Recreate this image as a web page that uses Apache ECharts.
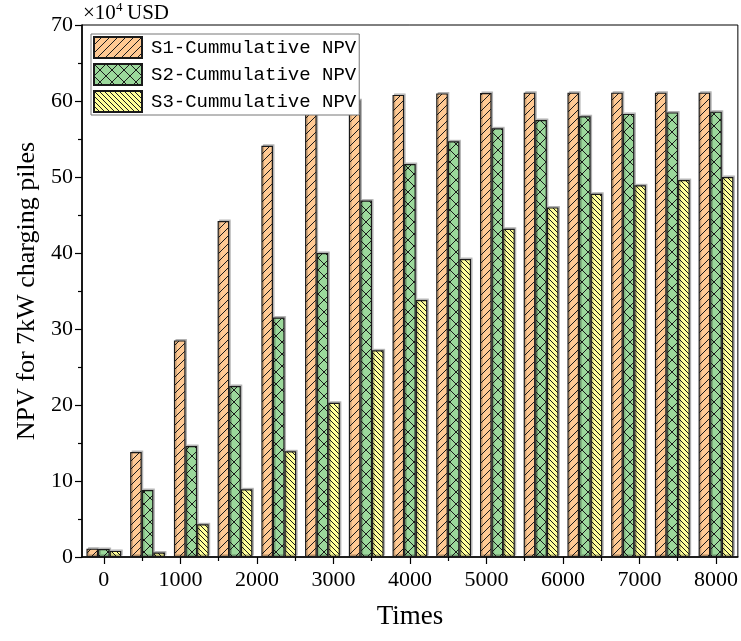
<!DOCTYPE html>
<html>
<head>
<meta charset="utf-8">
<script src="https://cdn.jsdelivr.net/npm/echarts@6/dist/echarts.min.js"></script>
<style>html,body{margin:0;padding:0;background:#fff;}#c{width:741px;height:641px;}</style>
</head>
<body>
<div id="c"></div>
<script>
// ---- data ----
const times = [0, 571, 1143, 1714, 2286, 2857, 3429, 4000, 4571, 5143, 5714, 6286, 6857, 7429, 8000];
const s1 = [1.1, 13.8, 28.5, 44.2, 54.1, 58.6, 60.1, 60.8, 61.0, 61.05, 61.1, 61.1, 61.1, 61.1, 61.1];
const s2 = [1.05, 8.8, 14.6, 22.5, 31.5, 40.0, 46.9, 51.7, 54.7, 56.4, 57.5, 58.0, 58.3, 58.5, 58.6];
const s3 = [0.8, 0.6, 4.3, 8.9, 13.9, 20.3, 27.2, 33.8, 39.2, 43.2, 46.0, 47.8, 48.9, 49.6, 50.0];
const seriesNames = ['S1-Cummulative NPV', 'S2-Cummulative NPV', 'S3-Cummulative NPV'];
const xMajorTicks = [0, 1000, 2000, 3000, 4000, 5000, 6000, 7000, 8000];
const xMinorTicks = [500, 1500, 2500, 3500, 4500, 5500, 6500, 7500];
const yTicks = [0, 10, 20, 30, 40, 50, 60, 70];
const yMinorTicks = [5, 15, 25, 35, 45, 55, 65];

function makePattern(bg, fwd, back, size) {
  const c = document.createElement('canvas');
  c.width = size; c.height = size;
  const g = c.getContext('2d');
  g.fillStyle = bg; g.fillRect(0, 0, size, size);
  g.strokeStyle = '#1a1a1a'; g.lineWidth = 1;
  for (let k = -1; k <= 1; k++) {
    if (fwd) { g.beginPath(); g.moveTo(k * size, size); g.lineTo(k * size + size, 0); g.stroke(); }
    if (back) { g.beginPath(); g.moveTo(k * size, 0); g.lineTo(k * size + size, size); g.stroke(); }
  }
  return { image: c, repeat: 'repeat' };
}
const fills = [
  makePattern('#FFC993', true, false, 8),
  makePattern('#9BD89B', true, true, 12),
  makePattern('#FFFF99', false, true, 5)
];

const chart = echarts.init(document.getElementById('c'), null, { renderer: 'canvas' });
const serif = 'Liberation Serif, Times New Roman, serif';
const xmin = -285.7, xmax = 8285.7;

const barSeries = [s1, s2, s3].map((vals, i) => ({
  name: seriesNames[i],
  type: 'bar',
  xAxisIndex: 0,
  yAxisIndex: 0,
  barWidth: 11.6,
  barGap: '0%',
  data: times.map((t, j) => [t, vals[j]]),
  itemStyle: {
    color: fills[i],
    borderColor: '#1a1a1a',
    borderWidth: 1.2,
    shadowColor: 'rgba(0,0,0,0.22)',
    shadowOffsetX: 1.5,
    shadowOffsetY: -1.5,
    shadowBlur: 0
  }
}));

chart.setOption({
  animation: false,
  backgroundColor: '#fff',
  grid: { left: 82, right: 3, top: 25, bottom: 84, show: true, borderColor: '#000', borderWidth: 1, backgroundColor: 'transparent' },
  legend: {
    orient: 'vertical',
    left: 91, top: 34,
    itemWidth: 48, itemHeight: 21, itemGap: 4,
    padding: [2, 3, 2, 2],
    backgroundColor: '#fff',
    borderColor: '#777', borderWidth: 1,
    icon: 'rect',
    textStyle: { fontFamily: 'Liberation Mono, Courier New, monospace', fontSize: 19, color: '#000', padding: [0, 0, 0, 4] },
    data: seriesNames
  },
  xAxis: [{
    type: 'value', min: xmin, max: xmax,
    name: 'Times', nameLocation: 'middle', nameGap: 46,
    nameTextStyle: { fontFamily: serif, fontSize: 27, color: '#000' },
    axisLine: { show: true, onZero: false, lineStyle: { color: '#000', width: 1.6 } },
    axisTick: { show: true, length: 7, customValues: xMajorTicks, lineStyle: { color: '#000', width: 1.2 } },
    axisLabel: { customValues: xMajorTicks, margin: 12, fontFamily: serif, fontSize: 22, color: '#000',
      formatter: v => String(Math.round(v)) },
    splitLine: { show: false }
  }, {
    type: 'value', min: xmin, max: xmax, position: 'bottom',
    axisLine: { show: false, onZero: false },
    axisTick: { show: true, length: 4, customValues: xMinorTicks, lineStyle: { color: '#000', width: 1.2 } },
    axisLabel: { show: false },
    splitLine: { show: false }
  }],
  yAxis: [{
    type: 'value', min: 0, max: 70, interval: 10,
    name: 'NPV for 7kW charging piles', nameLocation: 'middle', nameGap: 38, nameRotate: 90,
    nameTextStyle: { fontFamily: serif, fontSize: 26, color: '#000' },
    axisLine: { show: true, onZero: false, lineStyle: { color: '#000', width: 1.6 } },
    axisTick: { show: true, length: 7, lineStyle: { color: '#000', width: 1.2 } },
    axisLabel: { margin: 9, fontFamily: serif, fontSize: 22, color: '#000',
      formatter: v => (yTicks.indexOf(v) >= 0 ? String(v) : '') },
    splitLine: { show: false }
  }, {
    type: 'value', min: 0, max: 70, position: 'left',
    axisLine: { show: false, onZero: false },
    axisTick: { show: true, length: 4, customValues: yMinorTicks, lineStyle: { color: '#000', width: 1.2 } },
    axisLabel: { show: false },
    splitLine: { show: false }
  }],
  graphic: [
    { type: 'text', x: 83, y: 13.5, style: { text: '×10', fontFamily: serif, fontSize: 21, fill: '#000', verticalAlign: 'middle' } },
    { type: 'text', x: 116, y: 8, style: { text: '4', fontFamily: serif, fontSize: 13, fill: '#000', verticalAlign: 'middle' } },
    { type: 'text', x: 127, y: 13.5, style: { text: 'USD', fontFamily: serif, fontSize: 21, fill: '#000', verticalAlign: 'middle' } }
  ],
  series: barSeries
});
</script>
</body>
</html>
